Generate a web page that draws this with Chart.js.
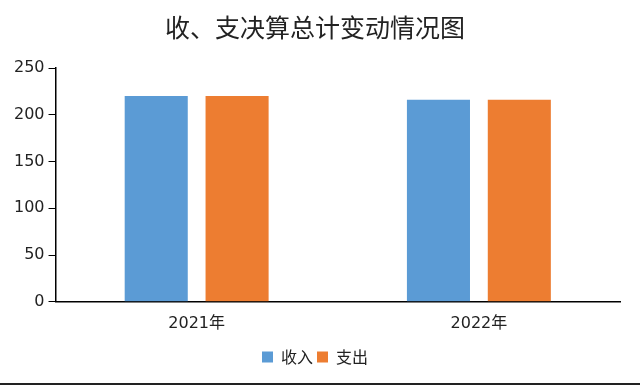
<!DOCTYPE html>
<html>
<head>
<meta charset="utf-8">
<script src="https://cdn.jsdelivr.net/npm/chart.js@4"></script>
<style>
  html, body { margin: 0; padding: 0; background: #fff; }
  #wrap { width: 640px; height: 383px; border-bottom: 2px solid #222; position: relative; }
</style>
</head>
<body>
<div id="wrap"><canvas id="c"></canvas></div>
<script>
const title = '收、支决算总计变动情况图';
const years = ['2021年', '2022年'];
const income = [220, 216];
const expense = [220, 216];
const FONT = "'DejaVu Sans', 'Noto Sans CJK SC', sans-serif";

const ctx = document.getElementById('c').getContext('2d');
new Chart(ctx, {
  type: 'bar',
  data: {
    labels: years,
    datasets: [
      { label: '收入', data: income, backgroundColor: '#5B9BD5' },
      { label: '支出', data: expense, backgroundColor: '#ED7D31' }
    ]
  },
  options: {
    responsive: true,
    maintainAspectRatio: false,
    animation: false,
    layout: { padding: { left: 10, right: 20, top: 8, bottom: 8 } },
    datasets: { bar: { categoryPercentage: 0.573, barPercentage: 0.78 } },
    plugins: {
      title: {
        display: true, text: title, color: '#222',
        font: { family: "'Noto Sans CJK SC', sans-serif", size: 25, weight: 'normal' },
        padding: { top: 4, bottom: 26 }
      },
      legend: {
        position: 'bottom',
        labels: { boxWidth: 11, boxHeight: 11, color: '#222', padding: 4,
          font: { family: "'Noto Sans CJK SC', sans-serif", size: 16 } }
      },
      tooltip: { enabled: false }
    },
    scales: {
      x: {
        grid: { display: false, drawTicks: false },
        border: { color: '#000', width: 1.5 },
        ticks: { color: '#222', padding: 12, font: { family: FONT, size: 16 } }
      },
      y: {
        min: 0, max: 250,
        grid: { drawOnChartArea: false, drawTicks: true, tickLength: 7, color: '#000' },
        border: { color: '#000', width: 1.5 },
        ticks: { stepSize: 50, color: '#222', padding: 4, font: { family: FONT, size: 16 } }
      }
    }
  }
});
</script>
</body>
</html>
